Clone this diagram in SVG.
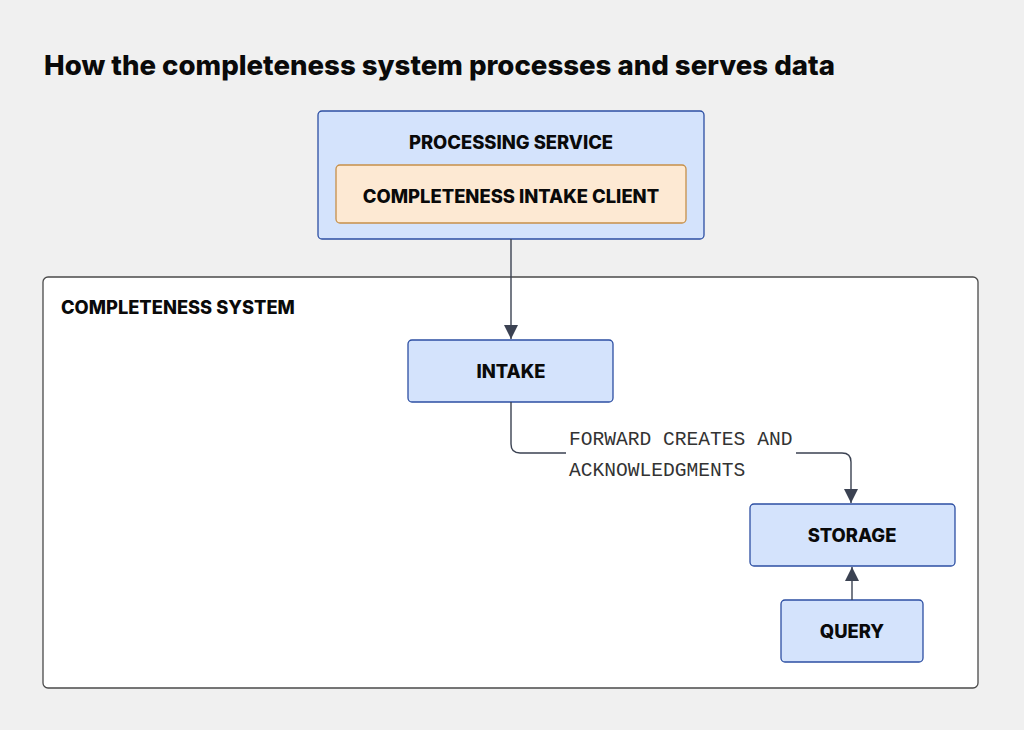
<svg xmlns="http://www.w3.org/2000/svg" width="1024" height="730" viewBox="0 0 1024 730">
<defs>
<style>
.bg{fill:#f0f0f0}
.node{fill:#d4e3fc;stroke:#2d4fa3;stroke-width:1.3}
.client{fill:#fde9d3;stroke:#c6904a;stroke-width:1.3}
.group{fill:#ffffff;stroke:#4a4a4a;stroke-width:1.3}
.lbl{font-family:"Inter","Liberation Sans",sans-serif;font-weight:800;font-size:18.4px;fill:#0a0a0a;text-anchor:middle}
.glbl{font-family:"Inter","Liberation Sans",sans-serif;font-weight:800;font-size:18.3px;fill:#0a0a0a}
.title{font-family:"Inter","Liberation Sans",sans-serif;font-weight:800;font-size:27.6px;fill:#0a0a0a}
.edge{fill:none;stroke:#3b4252;stroke-width:1.4}
.elbl{font-family:"Liberation Mono","DejaVu Sans Mono",monospace;font-size:19.6px;fill:#333}
</style>
<marker id="arr" viewBox="0 0 10 10" refX="10" refY="5" markerWidth="14" markerHeight="14" markerUnits="userSpaceOnUse" orient="auto">
<path d="M0,0 L10,5 L0,10 z" fill="#3b4252"/>
</marker>
</defs>
<rect class="bg" x="0" y="0" width="1024" height="730"/>
<text class="title" x="44" y="75">How the completeness system processes and serves data</text>

<g id="completeness-system">
<rect class="group" x="43" y="277" width="935" height="411" rx="5"/>
<text class="glbl" x="61" y="314">COMPLETENESS SYSTEM</text>
</g>

<g id="processing-service">
<rect class="node" x="318" y="111" width="386" height="128" rx="4"/>
<text class="lbl" x="511" y="149">PROCESSING SERVICE</text>
</g>

<g id="intake-client">
<rect class="client" x="336" y="165" width="350" height="58" rx="4"/>
<text class="lbl" x="511" y="203">COMPLETENESS INTAKE CLIENT</text>
</g>

<g id="intake">
<rect class="node" x="408" y="340" width="205" height="62" rx="4"/>
<text class="lbl" x="511" y="378">INTAKE</text>
</g>

<g id="storage">
<rect class="node" x="750" y="504" width="205" height="62" rx="4"/>
<text class="lbl" x="852" y="542">STORAGE</text>
</g>

<g id="query">
<rect class="node" x="781" y="600" width="142" height="62" rx="4"/>
<text class="lbl" x="852" y="638">QUERY</text>
</g>

<g id="connectors">
<path class="edge" d="M511,239 L511,339" marker-end="url(#arr)"/>
<path class="edge" d="M511,402 L511,444 Q511,453 520,453 L566,453"/>
<path class="edge" d="M796,453 L842,453 Q851,453 851,462 L851,503" marker-end="url(#arr)"/>
<path class="edge" d="M852,600 L852,567" marker-end="url(#arr)"/>
<text class="elbl" x="569" y="445">FORWARD CREATES AND</text>
<text class="elbl" x="569" y="476">ACKNOWLEDGMENTS</text>
</g>
</svg>
